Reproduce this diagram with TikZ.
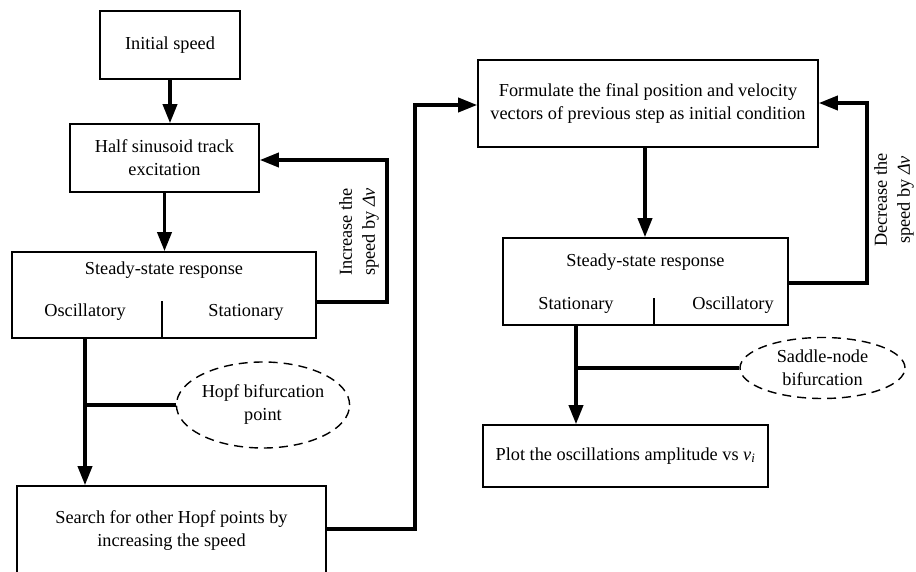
\documentclass[tikz,border=0pt]{standalone}
\usepackage{fontspec}
\setmainfont{Liberation Serif}
\usetikzlibrary{arrows.meta,shapes.geometric}
\tikzset{
  box/.style={draw, line width=1.6pt, rectangle, align=center, inner sep=0pt},
  txt/.style={inner sep=0pt, align=center},
  oval/.style={draw, dashed, dash pattern=on 9pt off 6pt, line width=1.4pt, ellipse, inner sep=0pt, align=center},
  flow/.style={line width=3.6pt, -{Triangle[length=19pt,width=14pt]}},
  link/.style={line width=3.6pt},
  thin/.style={line width=1.6pt}
}
\begin{document}
\begin{tikzpicture}[x=1pt,y=-1pt,font=\fontsize{18.3}{23}\selectfont]
\useasboundingbox (0,0) rectangle (916,572);
\clip (0,0) rectangle (916,572);
% boxes
\node[box, minimum width=140pt, minimum height=68pt] (initial) at (170,45) {Initial speed};
\node[box, minimum width=189pt, minimum height=68pt] (half) at (164.5,158) {Half sinusoid track\\excitation};
\node[box, minimum width=304pt, minimum height=86pt] (steady1) at (164,295) {};
\node[txt] (title1) at (164,270) {Steady-state response};
\node[txt] (osc1) at (85,312) {Oscillatory};
\node[txt] (stat1) at (246,312) {Stationary};
\coordinate (d1) at (162,301);
\draw[thin] (d1) -- (d1 |- steady1.south);
\node[box, minimum width=309pt, minimum height=90pt] (search) at (171.5,531) {Search for other Hopf points by\\increasing the speed};
\node[oval, minimum width=163pt, minimum height=86pt] (hopf) at (263,405) {Hopf bifurcation\\point};

\node[box, minimum width=340pt, minimum height=87pt] (form) at (648,103.5) {Formulate the final position and velocity\\vectors of previous step as initial condition};
\node[box, minimum width=285pt, minimum height=87pt] (steady2) at (645.5,281.5) {};
\node[txt] (title2) at (645.5,262) {Steady-state response};
\node[txt] (stat2) at (576,305) {Stationary};
\node[txt] (osc2) at (733,305) {Oscillatory};
\coordinate (d2) at (654,298);
\draw[thin] (d2) -- (d2 |- steady2.south);
\node[box, minimum width=285pt, minimum height=62pt] (plot) at (625.5,456) {Plot the oscillations amplitude vs {\itshape v}\textsubscript{\itshape i}};
\node[oval, minimum width=165pt, minimum height=61pt] (saddle) at (822.5,368) {Saddle-node\\bifurcation};

% labels
\node[txt, rotate=90] (inc) at (359,232) {Increase the\\speed by {\itshape Δv}};
\node[txt, rotate=90] (dec) at (894,200) {Decrease the\\speed by {\itshape Δv}};

% coordinates for routing
\coordinate (r1) at (387,302);
\coordinate (r2) at (415,529);
\coordinate (r3) at (867,283);
\coordinate (b1) at (85,405);
\coordinate (b2) at (576,368);

% connectors
\draw[flow] (initial.south) -- (initial.south |- half.north);
\draw[flow] (half.south) -- (half.south |- steady1.north);
\draw[flow] (r1 -| steady1.east) -- (r1) -- (r1 |- 0,160) -- (half.east |- 0,160);
\draw[flow] (osc1 |- steady1.south) -- (osc1 |- search.north);
\draw[link] (b1) -- (b1 -| hopf.west);
\draw[flow] (r2 -| search.east) -- (r2) -- (r2 |- 0,105) -- (form.west |- 0,105);
\draw[flow] (form.south -| 645,0) -- (645,0 |- steady2.north);
\draw[flow] (r3 -| steady2.east) -- (r3) -- (r3 |- 0,103) -- (form.east |- 0,103);
\draw[flow] (stat2 |- steady2.south) -- (stat2 |- plot.north);
\draw[link] (b2) -- (b2 -| saddle.west);
\end{tikzpicture}
\end{document}
